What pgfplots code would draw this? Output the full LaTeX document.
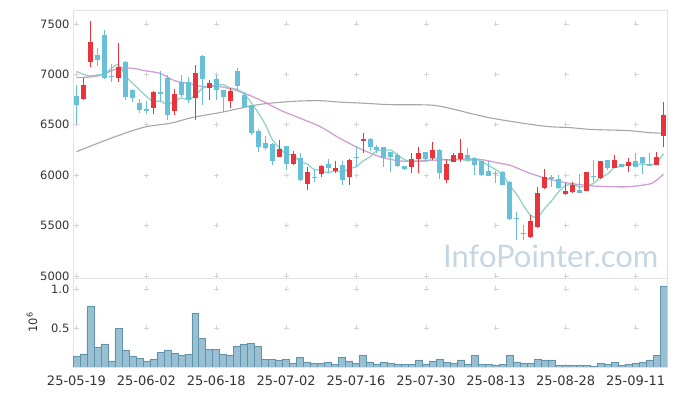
\documentclass[border=0pt]{standalone}
\usepackage{fontspec}
\setmainfont{DejaVu Sans}
\newfontfamily\wmfont{Lato}
\usepackage{pgfplots}
\usepackage{pgfplotstable}
\pgfplotsset{compat=1.18}

\definecolor{upc}{RGB}{232,52,58}
\definecolor{dnc}{RGB}{104,192,216}
\definecolor{volf}{RGB}{152,192,210}
\definecolor{vole}{RGB}{96,146,172}
\definecolor{mafive}{RGB}{128,202,192}
\definecolor{matwenty}{RGB}{202,142,202}
\definecolor{masixty}{RGB}{150,150,150}
\definecolor{gridc}{RGB}{212,212,212}
\definecolor{framec}{RGB}{226,226,226}
\definecolor{wmc}{RGB}{198,214,227}
\definecolor{labc}{RGB}{51,51,51}

% up (red) candles
\pgfplotstableread{
i open high low close
1 6753 6961 6748 6895
2 7126 7530 7076 7321
6 6968 7309 6928 7076
11 6664 6835 6604 6822
14 6640 6858 6597 6806
17 6763 7097 6548 7010
19 6862 6944 6746 6911
22 6739 6862 6664 6838
29 6184 6350 6180 6257
31 6111 6240 6105 6211
33 5916 6081 5856 6032
35 6015 6101 5979 6088
37 6045 6141 6025 6068
39 5985 6160 5902 6151
41 6343 6416 6217 6359
48 6085 6224 6025 6157
49 6161 6277 6025 6217
51 6167 6333 6151 6250
53 5951 6157 5919 6111
54 6134 6224 6130 6200
55 6161 6356 6128 6217
65 5384 5605 5380 5546
66 5483 5880 5480 5821
67 5869 6058 5865 5985
70 5813 5926 5803 5846
71 5829 5936 5825 5903
73 5846 6028 5842 6028
75 5969 6141 5965 6141
77 6075 6200 6071 6151
79 6094 6174 6035 6128
83 6101 6227 6097 6177
84 6392 6723 6277 6597
}\uptab

% down (blue) candles
\pgfplotstableread{
i open high low close
0 6789 6895 6505 6700
3 7192 7259 7087 7143
4 7391 7440 6954 6968
5 6980 7107 6928 6970
7 7123 7130 6746 6780
8 6845 6850 6723 6769
9 6713 6756 6614 6650
10 6657 6736 6607 6634
12 6829 7034 6723 6809
13 6961 6994 6548 6597
15 6928 6994 6779 6796
16 6928 6977 6713 6746
18 7183 7190 6696 6951
20 6951 6994 6746 6845
21 6845 6850 6630 6779
23 7034 7060 6845 6885
24 6796 6829 6664 6680
25 6696 6700 6399 6422
26 6442 6460 6233 6277
27 6323 6386 6250 6267
28 6310 6315 6101 6141
30 6287 6290 6052 6111
32 6174 6224 5940 5951
34 5985 6052 5935 5975
36 6111 6157 6025 6068
38 6101 6141 5902 5951
40 6180 6287 6081 6170
42 6359 6365 6237 6277
43 6277 6300 6217 6250
44 6277 6280 6085 6174
45 6227 6230 6035 6184
46 6200 6217 6085 6094
47 6091 6095 6055 6058
50 6227 6234 6141 6161
52 6250 6255 5959 6019
56 6200 6267 6144 6157
57 6167 6177 6002 6101
58 6144 6148 5995 6002
59 6042 6144 5990 5995
60 6025 6045 5919 6015
61 6035 6040 5898 5902
62 5936 5940 5555 5562
63 5580 5638 5357 5570
64 5430 5506 5357 5420
68 5979 6002 5886 5959
69 5959 6002 5865 5869
72 5853 6012 5822 5826
74 5995 6151 5936 5985
76 6151 6155 6052 6068
78 6111 6115 6081 6085
80 6144 6217 6081 6085
81 6177 6180 6012 6118
82 6111 6217 6087 6091
}\dntab

\pgfplotstableread{
i v
0 7030
1 7000
2 6985
3 6995
4 7005
5 7059
6 7096
7 6987
8 6913
9 6849
10 6782
11 6731
12 6737
13 6702
14 6734
15 6766
16 6751
17 6791
18 6862
19 6883
20 6893
21 6899
22 6865
23 6852
24 6805
25 6721
26 6620
27 6506
28 6357
29 6273
30 6211
31 6197
32 6134
33 6112
34 6056
35 6051
36 6023
37 6046
38 6030
39 6065
40 6082
41 6141
42 6182
43 6242
44 6247
45 6249
46 6196
47 6152
48 6133
49 6142
50 6137
51 6169
52 6161
53 6152
54 6148
55 6159
56 6141
57 6157
58 6135
59 6094
60 6055
61 6004
62 5896
63 5810
64 5696
65 5601
66 5585
67 5670
68 5747
69 5836
70 5896
71 5912
72 5881
73 5894
74 5919
75 5978
76 6011
77 6076
78 6087
79 6115
80 6103
81 6113
82 6101
83 6120
84 6214
}\mafivetab

\pgfplotstableread{
i v
0 6968
3 6984
6 7060
8 7060
10 7034
12 7010
14 6938
16 6911
18 6880
20.6 6878
23.4 6829
26.3 6746
29.1 6647
32 6565
34.9 6481
37.7 6365
40.6 6262
43.4 6184
46.3 6141
49.1 6141
52 6151
54.9 6157
57.7 6157
60.6 6118
62 6100
64.9 6019
67.7 5959
70.6 5919
73.4 5896
76.3 5886
79.1 5886
82 5913
83 5950
84 6010
}\matwentytab

\pgfplotstableread{
i v
0 6233
4.9 6366
9.6 6475
13.4 6515
16.7 6574
20.6 6622
23.4 6664
26.3 6703
29.1 6723
32 6736
34.9 6739
37.7 6725
40.6 6716
44.9 6700
50.6 6696
53.4 6664
56.3 6614
59.1 6570
62 6536
64.9 6505
67.7 6481
70.6 6472
73.4 6455
76.3 6448
79.1 6442
82 6422
84 6416
}\masixtytab

\pgfplotstableread{
i v
0 0.141
1 0.167
2 0.782
3 0.252
4 0.295
5 0.077
6 0.496
7 0.218
8 0.141
9 0.111
10 0.077
11 0.098
12 0.188
13 0.218
14 0.175
15 0.154
16 0.160
17 0.688
18 0.368
19 0.226
20 0.226
21 0.160
22 0.150
23 0.265
24 0.295
25 0.303
26 0.265
27 0.098
28 0.098
29 0.090
30 0.098
31 0.047
32 0.124
33 0.064
34 0.047
35 0.047
36 0.064
37 0.034
38 0.124
39 0.077
40 0.047
41 0.150
42 0.064
43 0.034
44 0.064
45 0.047
46 0.034
47 0.034
48 0.034
49 0.090
50 0.034
51 0.077
52 0.098
53 0.064
54 0.047
55 0.090
56 0.034
57 0.150
58 0.034
59 0.034
60 0.021
61 0.034
62 0.150
63 0.064
64 0.047
65 0.047
66 0.098
67 0.090
68 0.090
69 0.021
70 0.021
71 0.021
72 0.021
73 0.021
74 0.009
75 0.047
76 0.034
77 0.064
78 0.021
79 0.034
80 0.047
81 0.064
82 0.090
83 0.150
84 1.040
}\voltab

\pgfplotsset{
  candleaxis/.style={
    scale only axis, width=594pt,
    xmin=-0.5, xmax=84.5,
    xtick={0,10,...,80},
    axis line style={framec},
    major tick length=0pt,
    tick label style={font=\fontsize{11.5}{12}\selectfont, text=labc},
    /pgf/number format/1000 sep={},
    /pgf/number format/assume math mode=true,
    grid=major,
  },
}

\begin{document}
\begin{tikzpicture}
\useasboundingbox (0,0) rectangle (677pt,396pt);
\node[anchor=base west, inner sep=0pt, text=wmc, font=\wmfont\fontsize{31}{31}\selectfont] at (443pt,128pt) {InfoPointer.com};

\begin{axis}[candleaxis,
  at={(73pt,118pt)}, anchor=south west, height=268pt,
  ymin=4980, ymax=7639,
  xticklabels={},
  ytick={5000,5500,...,7500},
  x grid style={gridc, line width=0.8pt, dash pattern=on 5pt off 45.4pt, dash phase=0.5pt},
  y grid style={gridc, line width=0.8pt, dash pattern=on 5pt off 65pt, dash phase=69.5pt},
]
% moving averages
\addplot[smooth, masixty, line width=1.1pt, opacity=0.85] table[x=i,y=v]{\masixtytab};
\addplot[smooth, matwenty, line width=1.3pt, opacity=0.85] table[x=i,y=v]{\matwentytab};
\addplot[smooth, mafive, line width=1.3pt, opacity=0.85] table[x=i,y=v]{\mafivetab};
% wicks
\addplot[draw=none, mark=none, error bars/.cd, y dir=plus, y explicit, error mark=none,
  error bar style={draw=upc, line width=1pt}]
  table[x=i, y=low, y error plus expr=\thisrow{high}-\thisrow{low}]{\uptab};
\addplot[draw=none, mark=none, error bars/.cd, y dir=plus, y explicit, error mark=none,
  error bar style={draw=dnc, line width=1pt}]
  table[x=i, y=low, y error plus expr=\thisrow{high}-\thisrow{low}]{\dntab};
% bodies
\addplot[draw=none, mark=none, error bars/.cd, y dir=plus, y explicit, error mark=none,
  error bar style={draw=upc, line width=5pt}]
  table[x=i, y=open, y error plus expr=\thisrow{close}-\thisrow{open}]{\uptab};
\addplot[draw=none, mark=none, error bars/.cd, y dir=plus, y explicit, error mark=none,
  error bar style={draw=dnc, line width=5pt}]
  table[x=i, y=close, y error plus expr=\thisrow{open}-\thisrow{close}]{\dntab};
\end{axis}

\begin{axis}[candleaxis,
  at={(73pt,29pt)}, anchor=south west, height=89pt,
  ymin=0, ymax=1.141,
  xticklabels={25-05-19,25-06-02,25-06-18,25-07-02,25-07-16,25-07-30,25-08-13,25-08-28,25-09-11},
  xticklabel style={font=\fontsize{13}{14}\selectfont, anchor=center, yshift=-14pt},
  ytick={0.5,1.0},
  yticklabel style={/pgf/number format/.cd, fixed, fixed zerofill, precision=1},
  ylabel={10\textsuperscript{6}},
  ylabel style={at={(axis description cs:0,0.5)}, anchor=center, rotate=0, yshift=41pt, font=\fontsize{11.5}{12}\selectfont, text=labc},
  x grid style={gridc, line width=0.8pt, dash pattern=on 5pt off 34pt, dash phase=2.5pt},
  y grid style={gridc, line width=0.8pt, dash pattern=on 5pt off 65pt, dash phase=69.5pt},
]
\addplot[ybar, bar width=1, fill=volf, draw=vole, line width=0.6pt] table[x=i,y=v]{\voltab};
\end{axis}
\end{tikzpicture}
\end{document}
